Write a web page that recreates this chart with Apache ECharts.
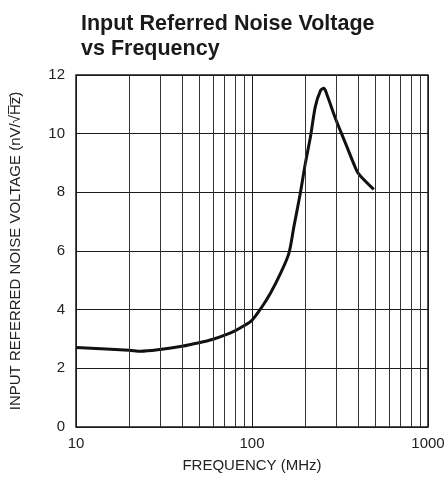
<!DOCTYPE html>
<html><head><meta charset="utf-8">
<script src="https://cdn.jsdelivr.net/npm/echarts@6/dist/echarts.min.js"></script>
<style>html,body{margin:0;padding:0;background:#fff}#c{width:448px;height:487px}</style>
</head><body><div id="c"></div>
<script>
const freq = [10, 20, 23.3, 30, 40, 50, 60, 70, 80, 90, 100, 114, 127, 145, 162, 173, 188, 201, 215, 229, 245, 256, 267, 298, 340, 392, 413, 492];
const noise = [2.71, 2.62, 2.58, 2.64, 2.75, 2.87, 2.99, 3.13, 3.28, 3.45, 3.64, 4.10, 4.55, 5.23, 5.92, 6.83, 7.96, 8.99, 9.90, 10.92, 11.47, 11.55, 11.32, 10.52, 9.67, 8.76, 8.56, 8.10];
const minorGrid = [20, 30, 40, 50, 60, 70, 80, 90, 200, 300, 400, 500, 600, 700, 800, 900];
const yTicks = [0, 2, 4, 6, 8, 10, 12];
const xTicks = [10, 100, 1000];
const FONT = '"Liberation Sans Narrow", "Liberation Sans", Arial, sans-serif';
const chart = echarts.init(document.getElementById('c'));
chart.setOption({
  animation: false,
  title: {
    text: 'Input Referred Noise Voltage\nvs Frequency',
    left: 76, top: 7,
    textStyle: { fontFamily: FONT, fontWeight: 'bold', fontSize: 21.5, lineHeight: 25, color: '#1a1a1a' }
  },
  grid: { left: 76, right: 20, top: 75, bottom: 60, show: true, borderColor: '#1a1a1a', borderWidth: 1.5 },
  xAxis: {
    type: 'log', logBase: 10, min: xTicks[0], max: xTicks[xTicks.length - 1],
    name: 'FREQUENCY (MHz)', nameLocation: 'middle', nameGap: 31,
    nameTextStyle: { fontFamily: FONT, fontSize: 15, color: '#222' },
    axisLine: { show: false }, axisTick: { show: false },
    axisLabel: { fontFamily: FONT, fontSize: 15, color: '#222', margin: 9, formatter: v => String(v) },
    splitLine: { show: true, lineStyle: { color: '#1a1a1a', width: 1 } }
  },
  yAxis: {
    type: 'value', min: yTicks[0], max: yTicks[yTicks.length - 1], interval: 2,
    name: 'INPUT REFERRED NOISE VOLTAGE (nV/\u221AH\u0305z\u0305)', nameLocation: 'middle', nameGap: 53,
    nameTextStyle: { fontFamily: FONT, fontSize: 15, color: '#222' },
    axisLine: { show: false }, axisTick: { show: false },
    axisLabel: { fontFamily: FONT, fontSize: 15, color: '#222', margin: 11 },
    splitLine: { show: true, lineStyle: { color: '#1a1a1a', width: 1 } }
  },
  series: [{
    type: 'line', data: freq.map((f, i) => [f, noise[i]]), smooth: 0.3, showSymbol: false,
    lineStyle: { color: '#111', width: 3 },
    markLine: {
      silent: true, symbol: 'none', label: { show: false },
      lineStyle: { color: '#333', width: 1, type: 'solid' },
      data: minorGrid.map(v => ({ xAxis: v }))
    },
    z: 3
  }]
});
</script></body></html>
